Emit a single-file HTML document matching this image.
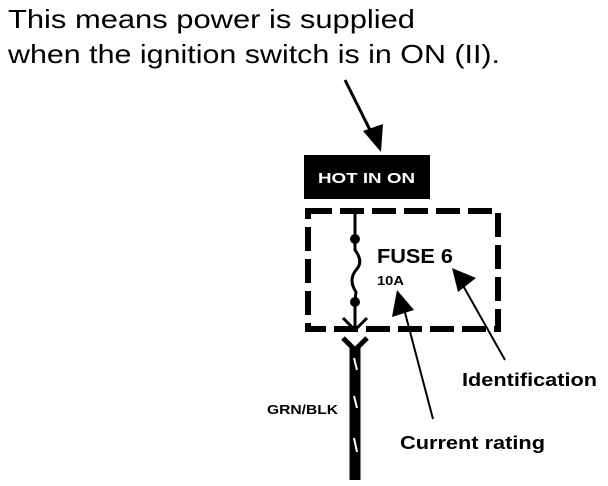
<!DOCTYPE html>
<html><head><style>body{margin:0;background:#fff}svg{display:block}</style></head><body>
<svg width="608" height="486" viewBox="0 0 608 486" xmlns="http://www.w3.org/2000/svg">
<g font-family="Liberation Sans, sans-serif">
<text x="8" y="28" font-size="26" textLength="407" lengthAdjust="spacingAndGlyphs">This means power is supplied</text>
<text x="8" y="63" font-size="26" textLength="492" lengthAdjust="spacingAndGlyphs">when the ignition switch is in ON (II).</text>
</g>
<line x1="345" y1="80" x2="372" y2="134" stroke="#000" stroke-width="3"/>
<polygon points="363,131 383,124 381,152" fill="#000"/>
<rect x="304" y="155" width="126" height="44" fill="#000"/>
<text x="318" y="183" font-family="Liberation Sans, sans-serif" font-size="15" font-weight="bold" fill="#fff" textLength="97" lengthAdjust="spacingAndGlyphs">HOT IN ON</text>
<rect x="308" y="211" width="190" height="118" fill="none" stroke="#000" stroke-width="6" stroke-dasharray="24,8"/>
<path d="M355 211 V240 M355 240 V250 Q364 262 356 270 Q348 280 356 292 L355 300 V330" fill="none" stroke="#000" stroke-width="3"/>
<circle cx="355" cy="239" r="5" fill="#000"/>
<circle cx="355" cy="302" r="5" fill="#000"/>
<path d="M343 318 L355 330 L367 318" fill="none" stroke="#000" stroke-width="3"/>
<text x="377" y="263" font-family="Liberation Sans, sans-serif" font-size="20" font-weight="bold" textLength="76" lengthAdjust="spacingAndGlyphs">FUSE 6</text>
<text x="377" y="285" font-family="Liberation Sans, sans-serif" font-size="13" font-weight="bold" textLength="27" lengthAdjust="spacingAndGlyphs">10A</text>
<line x1="433" y1="419" x2="403" y2="305" stroke="#000" stroke-width="2"/>
<polygon points="397,290 392,317 414,310" fill="#000"/>
<line x1="505" y1="360" x2="461" y2="282" stroke="#000" stroke-width="2"/>
<polygon points="452,268 458,292 476,278" fill="#000"/>
<path d="M343 338 L355 350 L367 338" fill="none" stroke="#000" stroke-width="5"/>
<line x1="355" y1="348" x2="355" y2="480" stroke="#000" stroke-width="11"/>
<g stroke="#fff" stroke-width="2">
<line x1="354" y1="358" x2="357" y2="370"/>
<line x1="354" y1="396" x2="357" y2="408"/>
<line x1="354" y1="438" x2="357" y2="452"/>
</g>
<g font-family="Liberation Sans, sans-serif" font-weight="bold">
<text x="267" y="414" font-size="13" textLength="71" lengthAdjust="spacingAndGlyphs">GRN/BLK</text>
<text x="462" y="386" font-size="18" textLength="135" lengthAdjust="spacingAndGlyphs">Identification</text>
<text x="400" y="449" font-size="18" textLength="145" lengthAdjust="spacingAndGlyphs">Current rating</text>
</g>
</svg>
</body></html>
